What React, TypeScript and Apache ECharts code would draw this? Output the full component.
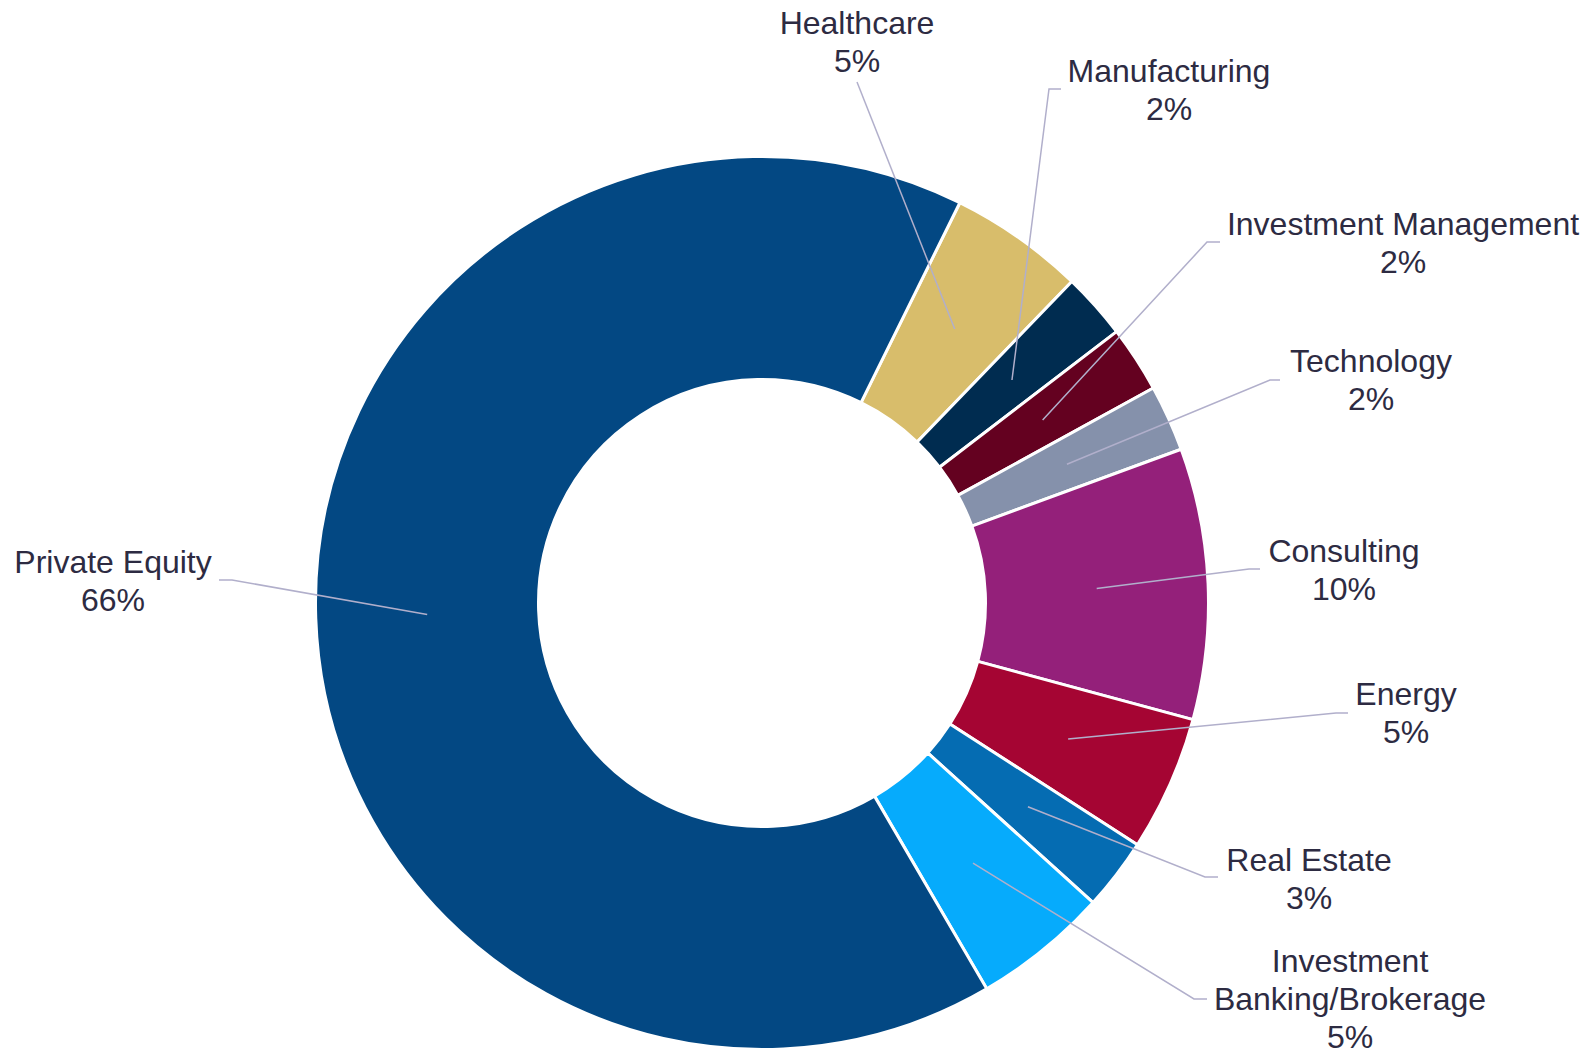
import React, { useEffect, useRef } from "react";
import * as echarts from "echarts";

// ---- Data ----
const categories = [
  "Healthcare",
  "Manufacturing",
  "Investment Management",
  "Technology",
  "Consulting",
  "Energy",
  "Real Estate",
  "Investment Banking/Brokerage",
  "Private Equity",
];
const shares = [4.9, 2.4, 2.4, 2.4, 9.8, 4.9, 2.6, 4.9, 65.7];
const colors = [
  "#d8bd6b",
  "#002c50",
  "#640120",
  "#8591ab",
  "#94207a",
  "#a50533",
  "#056cb2",
  "#06abfc",
  "#034883",
];

// ---- Layout (positions / styles) ----
const CX = 762;
const CY = 603;
const R_IN = 223.5;
const R_OUT = 446.5;
const R_MID = 335;
const FIRST_ANGLE = 26.3; // degrees clockwise from 12 o'clock

// label anchor (center) and leader elbow points, per slice index
const labelPlacement: { x: number; y: number; pts: number[][] }[] = [
  { x: 857, y: 42, pts: [[857, 82]] },
  { x: 1169, y: 89.5, pts: [[1049, 89], [1061, 89]] },
  { x: 1403, y: 242.5, pts: [[1207, 242], [1220, 242]] },
  { x: 1371, y: 380, pts: [[1270, 380], [1280, 380]] },
  { x: 1344, y: 570, pts: [[1249, 569], [1260, 569]] },
  { x: 1406, y: 713, pts: [[1336, 713], [1348, 713]] },
  { x: 1309, y: 879, pts: [[1205, 877], [1218, 877]] },
  { x: 1350, y: 999, pts: [[1194, 999], [1207, 999]] },
  { x: 113, y: 581, pts: [[232, 580], [219, 580]] },
];

const total = shares.reduce((a, b) => a + b, 0);

function sliceMidPoint(idx: number): number[] {
  let cum = 0;
  for (let i = 0; i < idx; i++) cum += shares[i];
  const theta = ((FIRST_ANGLE + ((cum + shares[idx] / 2) / total) * 360) * Math.PI) / 180;
  return [CX + R_MID * Math.sin(theta), CY - R_MID * Math.cos(theta)];
}

export default function App() {
  const ref = useRef<HTMLDivElement>(null);

  useEffect(() => {
    if (!ref.current) return;
    const chart = echarts.init(ref.current, null, { renderer: "svg" });

    const leaderLines = categories.map((_, i) => ({
      type: "polyline",
      z: 50,
      silent: true,
      shape: { points: [sliceMidPoint(i), ...labelPlacement[i].pts] },
      style: { stroke: "#b1afcb", lineWidth: 1.5, fill: null },
    }));

    chart.setOption({
      animation: false,
      backgroundColor: "#ffffff",
      graphic: { elements: leaderLines },
      series: [
        {
          type: "pie",
          z: 2,
          center: [CX, CY],
          radius: [R_IN, R_OUT],
          startAngle: 90 - FIRST_ANGLE,
          clockwise: true,
          avoidLabelOverlap: false,
          silent: true,
          itemStyle: {
            borderColor: "#ffffff",
            borderWidth: 3,
          },
          label: {
            show: true,
            position: "outside",
            color: "#2d2b42",
            fontSize: 32,
            lineHeight: 38,
            fontFamily: 'Arial, "Liberation Sans", sans-serif',
            width: 600,
            overflow: "none",
            formatter: (p: any) => {
              const name: string = p.name.length > 24 ? p.name.replace(" ", "\n") : p.name;
              return name + "\n" + Math.round(p.percent) + "%";
            },
          },
          labelLine: { show: false },
          labelLayout: (params: any) => {
            const place = labelPlacement[params.dataIndex];
            return {
              x: place.x,
              y: place.y,
              align: "center",
              verticalAlign: "middle",
            };
          },
          data: categories.map((name, i) => ({
            name,
            value: shares[i],
            itemStyle: { color: colors[i] },
          })),
        },
      ],
    });
    return () => {
      chart.dispose();
    };
  }, []);

  return (
    <div
      ref={ref}
      style={{ position: "fixed", left: 0, top: 0, width: 1596, height: 1049 }}
    />
  );
}
